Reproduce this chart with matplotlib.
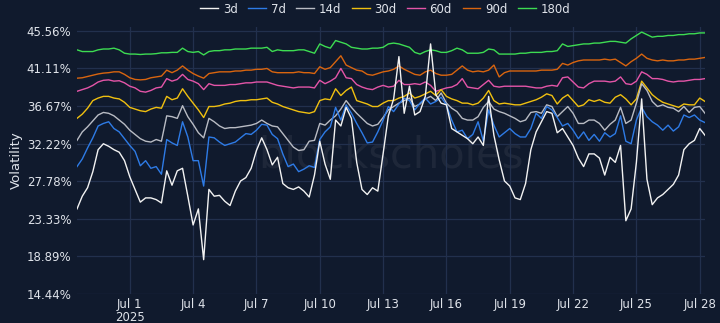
import matplotlib
matplotlib.use("Agg")
import matplotlib.pyplot as plt
import pandas as pd

# 6-hourly samples, Jun 28 12:00 -> Jul 28 06:00
times = pd.date_range("2025-06-28 12:00", periods=120, freq="6h")

vol_3d = [24.5, 26.0, 27.0, 28.9, 31.5, 32.2, 31.9, 31.5, 31.2, 30.2,
          28.3, 26.8, 25.3, 25.8, 25.8, 25.6, 25.2, 29.0, 27.3, 29.0,
          29.3, 26.0, 22.6, 24.5, 18.5, 26.8, 26.0, 26.1, 25.4, 24.9,
          26.6, 27.8, 28.2, 29.3, 31.4, 32.9, 31.5, 29.7, 30.6, 27.5,
          27.0, 26.8, 27.1, 26.6, 25.9, 28.5, 32.5, 29.8, 28.0, 35.0,
          34.3, 36.5, 35.2, 30.0, 26.8, 26.2, 27.0, 26.6, 31.0, 35.5,
          37.5, 42.5, 35.8, 39.0, 35.6, 36.0, 37.8, 44.0, 38.0, 37.0,
          36.8, 34.0, 33.6, 33.2, 32.8, 32.2, 33.0, 32.0, 37.8, 33.2,
          30.3, 27.8, 27.2, 25.8, 25.6, 27.5, 31.5, 33.6, 34.8, 36.0,
          35.8, 33.5, 34.0, 33.0, 32.0, 30.5, 29.5, 31.0, 31.0, 30.5,
          28.5, 30.6, 30.0, 32.0, 23.1, 24.5, 30.0, 37.5, 28.0, 25.0,
          25.8, 26.2, 26.8, 27.4, 28.5, 31.5, 32.2, 32.6, 34.0, 33.2]

vol_7d = [29.5, 30.4, 31.7, 32.9, 34.3, 34.6, 34.8, 34.0, 33.6, 32.8,
          32.0, 31.3, 29.6, 30.2, 29.3, 29.5, 28.6, 32.7, 32.3, 32.0,
          34.8, 33.0, 30.2, 30.2, 27.2, 33.0, 32.9, 32.4, 32.0, 32.2,
          32.4, 32.9, 33.4, 33.3, 33.8, 34.5, 34.4, 33.3, 32.8, 31.0,
          29.5, 29.8, 28.9, 29.2, 29.6, 29.4, 32.7, 33.6, 34.2, 36.5,
          35.0, 36.8, 35.8, 34.6, 33.5, 32.3, 32.4, 33.6, 35.0, 36.6,
          36.0, 36.9, 37.6, 37.3, 36.2, 37.0, 37.6, 36.9, 37.2, 37.7,
          36.8, 35.0, 33.6, 33.8, 32.8, 33.3, 34.8, 32.5, 36.2, 34.4,
          33.0, 33.5, 34.0, 33.4, 33.0, 33.0, 34.0, 35.8, 35.2, 36.6,
          36.2, 35.3, 34.3, 34.6, 33.8, 32.8, 33.6, 32.6, 33.3, 32.5,
          33.5, 33.0, 33.4, 35.5, 32.5, 32.2, 35.0, 36.5, 35.4, 34.8,
          34.4, 33.8, 34.4, 33.7, 34.2, 35.6, 35.3, 35.6, 35.0, 34.7]

vol_14d = [32.6, 33.6, 34.2, 34.9, 35.6, 35.9, 35.8, 35.5, 35.0, 34.5,
           33.8, 33.3, 32.8, 32.5, 32.4, 32.7, 32.5, 35.5, 35.4, 35.2,
           36.7, 35.4, 34.5, 33.5, 32.9, 35.2, 34.8, 34.3, 34.0, 34.1,
           34.1, 34.2, 34.3, 34.4, 34.6, 35.0, 34.6, 34.3, 34.2, 33.4,
           32.6, 31.8, 31.4, 31.5, 32.5, 32.6, 34.6, 34.4, 35.0, 35.5,
           36.3, 37.3, 36.5, 35.8, 35.2, 34.6, 34.3, 34.5, 35.3, 36.2,
           36.6, 37.0, 37.3, 37.6, 36.6, 36.9, 37.5, 37.8, 37.3, 38.2,
           37.0, 36.4, 36.0, 35.2, 35.0, 35.0, 35.4, 36.5, 37.2, 36.3,
           36.0, 35.8, 35.5, 35.2, 34.8, 35.0, 35.9, 36.0, 35.8, 36.8,
           36.6, 35.4, 36.0, 36.6, 35.8, 34.6, 34.6, 35.0, 35.0, 34.6,
           33.8, 34.5, 35.0, 36.5, 34.6, 35.0, 37.0, 39.3, 38.5, 37.2,
           36.6, 36.8, 36.5, 36.4, 36.0, 36.6, 35.9, 36.5, 36.6, 35.8]

vol_30d = [35.2, 35.7, 36.4, 37.3, 37.6, 37.8, 37.8, 37.6, 37.5, 37.1,
           36.5, 36.3, 36.1, 36.0, 36.3, 36.5, 36.4, 37.8, 37.4, 37.6,
           38.7, 37.8, 37.0, 36.2, 35.3, 36.6, 36.6, 36.7, 36.9, 37.0,
           37.2, 37.3, 37.3, 37.4, 37.4, 37.5, 37.6, 37.1, 36.9, 36.6,
           36.4, 36.2, 36.0, 35.9, 35.8, 36.0, 37.3, 37.5, 37.4, 38.7,
           37.9, 38.5, 38.9, 37.3, 37.1, 36.9, 36.6, 36.6, 37.0, 37.3,
           37.3, 37.6, 37.8, 38.2, 37.6, 37.8, 38.1, 38.4, 37.9, 38.6,
           37.8, 37.5, 37.3, 37.0, 37.0, 36.8, 37.0, 37.6, 38.5, 37.3,
           36.9, 37.0, 36.9, 36.8, 36.8, 37.0, 37.2, 37.4, 37.7, 38.1,
           37.9, 36.9, 37.6, 38.0, 37.3, 36.6, 36.8, 37.4, 37.2, 37.4,
           37.1, 37.0, 37.7, 38.0, 37.5, 36.8, 37.5, 39.6, 38.8, 38.0,
           37.5, 37.1, 36.9, 36.7, 36.5, 36.9, 36.8, 36.8, 37.6, 37.2]

vol_60d = [38.4, 38.6, 38.8, 39.1, 39.5, 39.7, 39.75, 39.6, 39.65, 39.4,
           39.0, 38.8, 38.4, 38.3, 38.5, 38.8, 38.9, 39.9, 39.6, 39.8,
           40.4, 39.8, 39.6, 39.3, 38.6, 39.3, 39.1, 39.1, 39.1, 39.2,
           39.2, 39.3, 39.4, 39.4, 39.5, 39.5, 39.5, 39.3, 39.1, 39.0,
           38.9, 38.8, 38.9, 38.9, 38.9, 38.8, 39.7, 39.3, 39.6, 40.0,
           41.1, 40.0, 39.9, 39.2, 38.9, 38.7, 38.6, 38.9, 39.1, 38.9,
           39.0, 39.7, 39.2, 39.2, 39.3, 39.2, 39.5, 39.1, 38.4, 38.6,
           38.8, 38.9, 39.2, 39.9, 38.9, 38.8, 38.7, 39.2, 39.7, 39.0,
           38.9, 39.0, 39.0, 39.0, 39.0, 39.0, 38.9, 38.8, 38.8, 39.0,
           39.1, 39.0, 40.0, 40.1, 39.5, 38.9, 38.8, 39.3, 39.6, 39.6,
           39.6, 39.5, 39.6, 40.1, 39.3, 39.2, 39.6, 40.7, 40.4, 39.9,
           39.9, 39.8, 39.6, 39.5, 39.6, 39.6, 39.7, 39.8, 39.8, 39.9]

vol_90d = [39.95, 40.0, 40.15, 40.3, 40.45, 40.55, 40.6, 40.7, 40.7, 40.4,
           40.0, 39.8, 39.75, 39.8, 40.0, 40.1, 40.2, 40.9, 40.6, 40.9,
           41.4, 40.9, 40.5, 40.2, 39.95, 40.5, 40.6, 40.7, 40.7, 40.7,
           40.8, 40.8, 40.9, 40.9, 41.0, 41.0, 41.1, 40.7, 40.6, 40.6,
           40.6, 40.6, 40.7, 40.6, 40.6, 40.5, 41.3, 41.0, 41.2, 41.9,
           42.6, 41.5, 41.2, 40.9, 40.8, 40.4, 40.3, 40.5, 40.7, 40.8,
           41.0, 41.4, 41.0, 40.7, 40.4, 40.3, 40.7, 40.9, 40.5, 40.3,
           40.3, 40.4, 40.9, 41.4, 40.9, 40.7, 40.8, 40.7, 40.9, 41.5,
           40.1, 40.6, 40.8, 40.8, 40.8, 40.8, 40.8, 40.8, 40.9, 40.9,
           40.9, 41.0, 41.7, 41.5, 41.8, 42.0, 42.1, 42.1, 42.1, 42.1,
           42.2, 42.1, 42.2, 41.8, 41.4, 41.9, 42.3, 42.8, 42.3, 42.1,
           42.0, 42.1, 42.0, 42.0, 42.1, 42.1, 42.2, 42.2, 42.3, 42.4]

vol_180d = [43.3, 43.1, 43.1, 43.1, 43.3, 43.4, 43.4, 43.5, 43.3, 42.9,
            42.8, 42.8, 42.75, 42.8, 42.8, 42.85, 42.95, 42.95, 43.0, 43.0,
            43.5, 43.1, 43.0, 43.1, 42.7, 43.1, 43.2, 43.2, 43.3, 43.3,
            43.4, 43.4, 43.4, 43.5, 43.5, 43.5, 43.6, 43.1, 43.3, 43.2,
            43.2, 43.2, 43.3, 43.3, 43.1, 42.9, 44.0, 43.7, 43.5, 44.4,
            44.2, 44.0, 43.6, 43.5, 43.4, 43.4, 43.5, 43.5, 43.6, 44.0,
            44.1, 44.0, 43.8, 43.6, 43.0, 42.8, 43.1, 43.3, 43.2, 43.0,
            43.0, 43.2, 43.5, 43.3, 42.9, 42.9, 42.9, 43.0, 43.4, 43.3,
            42.8, 42.8, 42.8, 42.8, 42.9, 42.9, 43.0, 43.0, 43.0, 43.1,
            43.1, 43.2, 44.0, 43.7, 43.8, 43.9, 44.0, 44.0, 44.1, 44.1,
            44.2, 44.3, 44.3, 44.2, 44.1, 44.6, 45.0, 45.4, 45.1, 44.8,
            44.9, 44.9, 45.0, 45.0, 45.1, 45.1, 45.2, 45.2, 45.3, 45.3]

labels = ["3d", "7d", "14d", "30d", "60d", "90d", "180d"]
series = [vol_3d, vol_7d, vol_14d, vol_30d, vol_60d, vol_90d, vol_180d]
colors = ["#f2f2f2", "#2e7be6", "#b9bcc4", "#f0c010", "#e455a8", "#d9650f", "#3ddc52"]

y_ticks = [14.44, 18.89, 23.33, 27.78, 32.22, 36.67, 41.11, 45.56]
x_ticks = pd.date_range("2025-07-01", "2025-07-28", freq="3D")

bg = "#101a2d"
grid = "#22304d"
txt = "#dfe3ea"

fig = plt.figure(figsize=(7.2, 3.23), dpi=100, facecolor=bg)
ax = fig.add_axes([77 / 720, 1 - 294 / 323, 628 / 720, 267 / 323], facecolor=bg)

# draw longest-horizon first so short-dated lines sit on top
for lab, vals, col in reversed(list(zip(labels, series, colors))):
    ax.plot(times, vals, color=col, lw=1.0, label=lab)

ax.set_xlim(times[0], times[-1])
ax.set_ylim(14.44, 46.0)
ax.set_yticks(y_ticks)
ax.set_yticklabels([f"{v:.2f}%" for v in y_ticks])
ax.set_xticks(x_ticks)
ax.set_xticklabels([("Jul %d\n2025" if d.day == 1 else "Jul %d") % d.day for d in x_ticks])
for t in ax.get_xticklabels():
    t.set_linespacing(0.95)
ax.grid(True, color=grid, lw=0.9)
ax.set_axisbelow(True)
for s in ax.spines.values():
    s.set_visible(False)
ax.tick_params(length=0, colors=txt, labelsize=8.5)
ax.tick_params(axis="x", pad=3)
ax.tick_params(axis="y", pad=4)
ax.set_ylabel("Volatility", color=txt, fontsize=9.5, labelpad=3)

ax.text(0.5, 0.52, "blockscholes", transform=ax.transAxes, ha="center", va="center",
        fontsize=30, color="#ffffff", alpha=0.06, zorder=0)

handles, labs = ax.get_legend_handles_labels()
leg = fig.legend(handles[::-1], labs[::-1], loc="center", bbox_to_anchor=(0.535, 0.972),
                 ncol=7, frameon=False, fontsize=8.5, handlelength=1.5,
                 handletextpad=0.4, columnspacing=0.9, labelcolor=txt)

fig.savefig("out.png", dpi=100, facecolor=bg)
